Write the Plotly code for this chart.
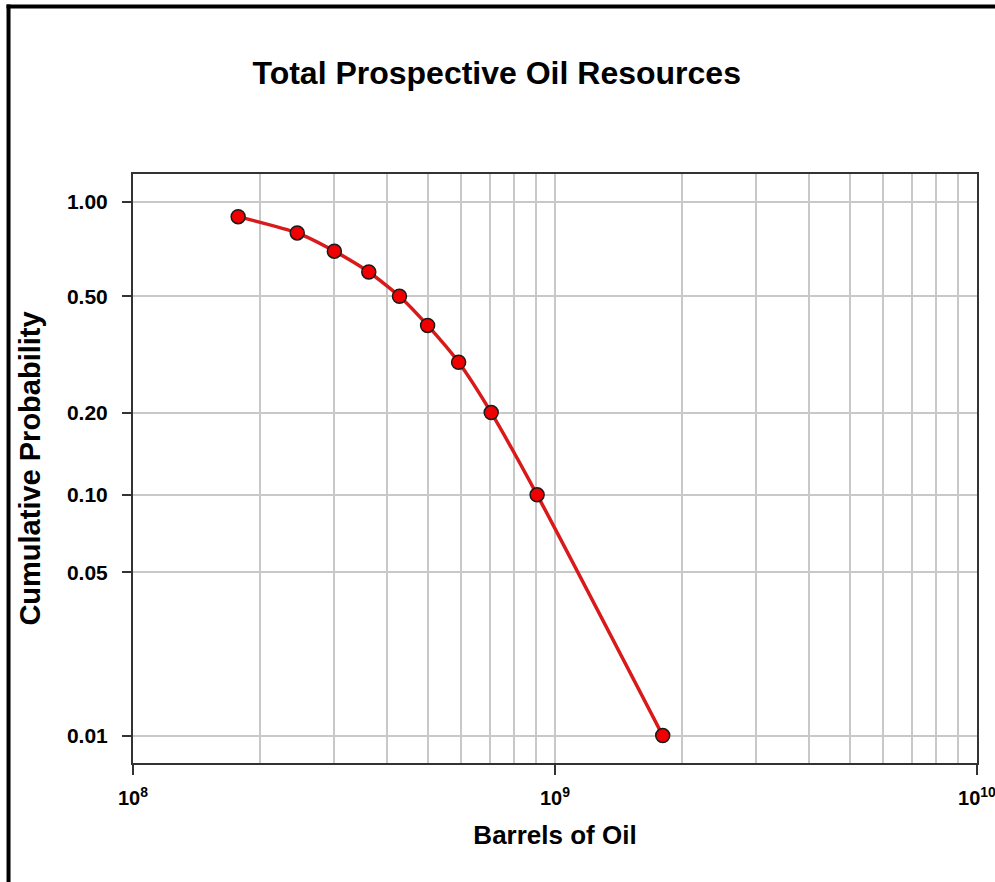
import plotly.graph_objects as go

# ---- data ----
barrels = [1.775e8, 2.45e8, 3.0e8, 3.62e8, 4.28e8, 4.99e8, 5.91e8, 7.06e8, 9.07e8, 1.80e9]
cum_prob = [0.90, 0.80, 0.70, 0.60, 0.50, 0.40, 0.30, 0.20, 0.10, 0.01]

y_tick_vals = [1.00, 0.50, 0.20, 0.10, 0.05, 0.01]
y_tick_text = ["1.00", "0.50", "0.20", "0.10", "0.05", "0.01"]
x_tick_vals = [1e8, 1e9, 1e10]
x_tick_text = ["10<sup>8</sup>", "10<sup>9</sup>", "10<sup>10</sup>"]
x_minor_vals = [m * 10 ** e for e in (8, 9) for m in range(2, 10)]

# probability-scale transform used by the original axis (power scale)
EXP = 0.085
def tr(p):
    return p ** EXP

FONT = "Liberation Sans, Arial, sans-serif"
W, H = 995, 882
ML, MR, MT, MB = 132.5, 18.3, 173.7, 118.7

fig = go.Figure()
fig.add_trace(go.Scatter(
    x=barrels,
    y=[tr(p) for p in cum_prob],
    mode="lines+markers",
    line=dict(color="#d91a1a", width=3.5, shape="spline", smoothing=0.6),
    marker=dict(size=14, color="#f00000", line=dict(color="#1a1a1a", width=1.5)),
    showlegend=False,
))

grid = "#c8c8c8"
fig.update_layout(
    width=W, height=H,
    margin=dict(l=ML, r=MR, t=MT, b=MB),
    paper_bgcolor="white", plot_bgcolor="white",
    font=dict(family=FONT, color="black"),
    title=dict(text="Total Prospective Oil Resources", x=496.7 / W, xanchor="center",
               xref="container", y=1 - 72.5 / H, yref="container", yanchor="middle",
               font=dict(size=32, weight="bold", family=FONT)),
    xaxis=dict(
        type="log", range=[8, 10], automargin=False,
        tickvals=x_tick_vals, ticktext=x_tick_text,
        ticks="outside", ticklen=10, tickwidth=1.5, tickcolor="#333",
        tickfont=dict(size=20, weight="bold"),
        ticklabelstandoff=6, ticklabeloverflow="allow",
        showgrid=True, gridcolor=grid, gridwidth=1.5,
        minor=dict(tickvals=x_minor_vals, showgrid=True, gridcolor=grid, gridwidth=1.5, ticks=""),
        showline=True, linecolor="#333", linewidth=2, mirror=True,
        zeroline=False,
        title=dict(text="Barrels of Oil", font=dict(size=26, weight="bold"), standoff=18),
    ),
    yaxis=dict(
        range=[0.65943, 1.01698], automargin=False,
        tickvals=[tr(v) for v in y_tick_vals], ticktext=y_tick_text,
        ticks="outside", ticklen=9, tickwidth=1.5, tickcolor="#333",
        tickfont=dict(size=21, weight="bold"),
        ticklabelstandoff=10,
        showgrid=True, gridcolor=grid, gridwidth=1.5,
        showline=True, linecolor="#333", linewidth=2, mirror=True,
        zeroline=False,
        title=dict(text="Cumulative Probability", font=dict(size=29, weight="bold"), standoff=18),
    ),
)

# outer frame (left and top edges visible in the reference)
pw, ph = W - ML - MR, H - MT - MB
def px_x(px):
    return (px - ML) / pw
def px_y(py):
    return 1 - (py - MT) / ph
fig.add_shape(type="line", xref="paper", yref="paper",
              x0=px_x(6), x1=px_x(1100), y0=px_y(6), y1=px_y(6),
              line=dict(color="black", width=4), layer="above")
fig.add_shape(type="line", xref="paper", yref="paper",
              x0=px_x(8), x1=px_x(8), y0=px_y(4), y1=px_y(1000),
              line=dict(color="black", width=4), layer="above")

fig.write_html("out.html", config={"displayModeBar": False},
               post_script="document.body.style.margin='0';")
